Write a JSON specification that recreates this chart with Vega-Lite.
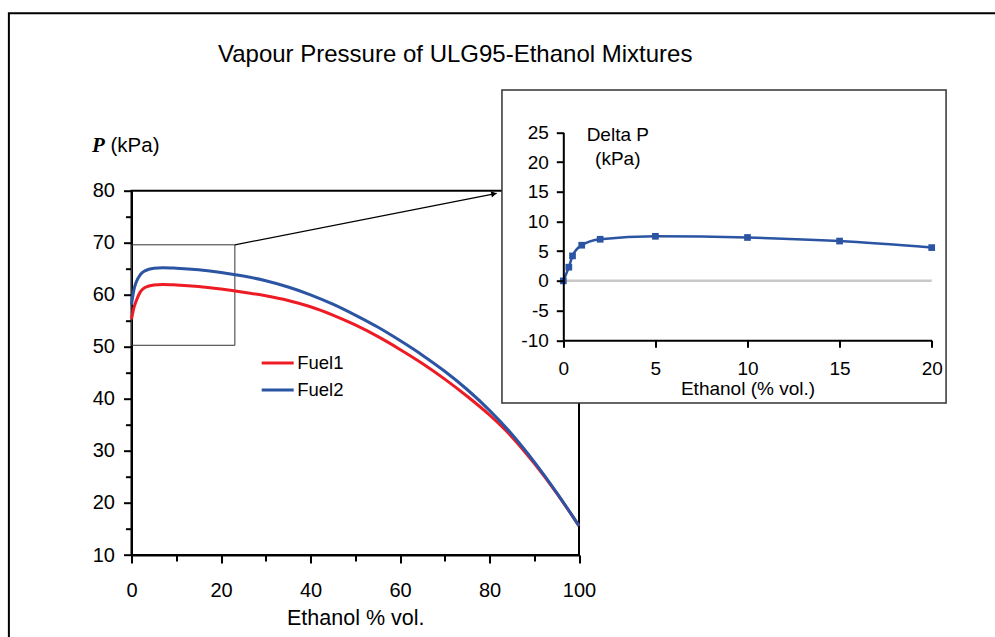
{
  "$schema": "https://vega.github.io/schema/vega-lite/v6.json",
  "width": 447.5,
  "height": 364.3,
  "autosize": {"type": "none"},
  "padding": {"left": 131.5, "top": 190.7, "right": 416, "bottom": 82},
  "background": "white",
  "config": {
    "view": {"stroke": "black", "strokeWidth": 2},
    "font": "Liberation Sans",
    "axis": {
      "grid": false,
      "domainColor": "black",
      "domainWidth": 2,
      "tickColor": "black",
      "tickWidth": 2,
      "labelColor": "black",
      "titleColor": "black",
      "labelFont": "Liberation Sans",
      "titleFont": "Liberation Sans",
      "titleFontWeight": "normal",
      "labelFlush": false
    }
  },
  "resolve": {
    "scale": {"x": "independent", "y": "independent"},
    "axis": {"x": "independent", "y": "independent"}
  },
  "layer": [
    {
      "data": {"values": [{"x0": -27.4, "x1": 200, "y0": 114.1, "y1": -50}]},
      "mark": {"type": "rect", "filled": false, "color": "black", "strokeWidth": 2},
      "encoding": {
        "x": {
          "field": "x0", "type": "quantitative",
          "scale": {"domain": [0, 100], "nice": false, "zero": false},
          "axis": {"orient": "bottom", "values": [10, 30, 50, 70, 90], "tickSize": 6, "labels": false, "domain": false, "title": null}
        },
        "x2": {"field": "x1"},
        "y": {
          "field": "y0", "type": "quantitative",
          "scale": {"domain": [10, 80], "nice": false, "zero": false},
          "axis": {"orient": "left", "values": [15, 25, 35, 45, 55, 65, 75], "tickSize": 6, "labels": false, "domain": false, "title": null}
        },
        "y2": {"field": "y1"}
      }
    },
    {
      "data": {"values": [{"x0": 0, "x1": 23.1, "y0": 69.6, "y1": 50.3}]},
      "mark": {"type": "rect", "filled": false, "color": "#333333", "strokeWidth": 1},
      "encoding": {
        "x": {
          "field": "x0", "type": "quantitative",
          "scale": {"domain": [0, 100], "nice": false, "zero": false},
          "axis": {
            "orient": "top", "labels": false, "ticks": false, "domain": false,
            "title": "Vapour Pressure of ULG95-Ethanol Mixtures",
            "titleFontSize": 24, "titleX": 323.2, "titleY": -129,
            "titleAlign": "center", "titleBaseline": "alphabetic"
          }
        },
        "x2": {"field": "x1"},
        "y": {
          "field": "y0", "type": "quantitative",
          "scale": {"domain": [10, 80], "nice": false, "zero": false},
          "axis": {
            "orient": "left", "labels": false, "ticks": false, "domain": false,
            "title": "(kPa)", "titleFontSize": 20.5, "titleAngle": 0,
            "titleX": -21.5, "titleY": -39, "titleAlign": "left", "titleBaseline": "alphabetic"
          }
        },
        "y2": {"field": "y1"}
      }
    },
    {
      "data": {"values": [{"x0": 23.1, "y0": 69.6, "x1": 81.6, "y1": 79.5}]},
      "mark": {"type": "rule", "color": "black", "strokeWidth": 1.3},
      "encoding": {
        "x": {"field": "x0", "type": "quantitative", "scale": {"domain": [0, 100], "nice": false, "zero": false}, "axis": null},
        "x2": {"field": "x1"},
        "y": {"field": "y0", "type": "quantitative", "scale": {"domain": [10, 80], "nice": false, "zero": false}, "axis": null},
        "y2": {"field": "y1"}
      }
    },
    {
      "data": {"values": [{"x": 81.0, "y": 79.4}]},
      "mark": {"type": "point", "shape": "triangle-right", "filled": true, "color": "black", "size": 40, "angle": -11, "opacity": 1},
      "encoding": {
        "x": {"field": "x", "type": "quantitative", "scale": {"domain": [0, 100], "nice": false, "zero": false}, "axis": null},
        "y": {"field": "y", "type": "quantitative", "scale": {"domain": [10, 80], "nice": false, "zero": false}, "axis": null}
      }
    },
    {
      "data": {
        "values": [
          {"x": 0, "P": 55.3, "fuel": "Fuel1"},
          {"x": 0.5, "P": 57.4, "fuel": "Fuel1"},
          {"x": 1, "P": 58.7, "fuel": "Fuel1"},
          {"x": 2, "P": 60.6, "fuel": "Fuel1"},
          {"x": 3, "P": 61.4, "fuel": "Fuel1"},
          {"x": 5, "P": 61.9, "fuel": "Fuel1"},
          {"x": 7, "P": 62.0, "fuel": "Fuel1"},
          {"x": 10, "P": 61.9, "fuel": "Fuel1"},
          {"x": 15, "P": 61.6, "fuel": "Fuel1"},
          {"x": 20, "P": 61.1, "fuel": "Fuel1"},
          {"x": 25, "P": 60.5, "fuel": "Fuel1"},
          {"x": 30, "P": 59.8, "fuel": "Fuel1"},
          {"x": 35, "P": 58.9, "fuel": "Fuel1"},
          {"x": 40, "P": 57.7, "fuel": "Fuel1"},
          {"x": 45, "P": 56.1, "fuel": "Fuel1"},
          {"x": 50, "P": 54.2, "fuel": "Fuel1"},
          {"x": 55, "P": 52.0, "fuel": "Fuel1"},
          {"x": 60, "P": 49.5, "fuel": "Fuel1"},
          {"x": 65, "P": 46.8, "fuel": "Fuel1"},
          {"x": 70, "P": 43.8, "fuel": "Fuel1"},
          {"x": 75, "P": 40.5, "fuel": "Fuel1"},
          {"x": 80, "P": 36.9, "fuel": "Fuel1"},
          {"x": 85, "P": 32.7, "fuel": "Fuel1"},
          {"x": 90, "P": 27.6, "fuel": "Fuel1"},
          {"x": 95, "P": 21.9, "fuel": "Fuel1"},
          {"x": 100, "P": 15.6, "fuel": "Fuel1"},
          {"x": 0, "P": 58.1, "fuel": "Fuel2"},
          {"x": 0.5, "P": 60.8, "fuel": "Fuel2"},
          {"x": 1, "P": 62.3, "fuel": "Fuel2"},
          {"x": 2, "P": 63.9, "fuel": "Fuel2"},
          {"x": 3, "P": 64.6, "fuel": "Fuel2"},
          {"x": 5, "P": 65.1, "fuel": "Fuel2"},
          {"x": 7, "P": 65.2, "fuel": "Fuel2"},
          {"x": 10, "P": 65.1, "fuel": "Fuel2"},
          {"x": 15, "P": 64.8, "fuel": "Fuel2"},
          {"x": 20, "P": 64.3, "fuel": "Fuel2"},
          {"x": 25, "P": 63.6, "fuel": "Fuel2"},
          {"x": 30, "P": 62.7, "fuel": "Fuel2"},
          {"x": 35, "P": 61.5, "fuel": "Fuel2"},
          {"x": 40, "P": 60.0, "fuel": "Fuel2"},
          {"x": 45, "P": 58.2, "fuel": "Fuel2"},
          {"x": 50, "P": 56.1, "fuel": "Fuel2"},
          {"x": 55, "P": 53.8, "fuel": "Fuel2"},
          {"x": 60, "P": 51.2, "fuel": "Fuel2"},
          {"x": 65, "P": 48.4, "fuel": "Fuel2"},
          {"x": 70, "P": 45.3, "fuel": "Fuel2"},
          {"x": 75, "P": 41.8, "fuel": "Fuel2"},
          {"x": 80, "P": 37.8, "fuel": "Fuel2"},
          {"x": 85, "P": 33.2, "fuel": "Fuel2"},
          {"x": 90, "P": 27.9, "fuel": "Fuel2"},
          {"x": 95, "P": 22.0, "fuel": "Fuel2"},
          {"x": 100, "P": 15.6, "fuel": "Fuel2"}
        ]
      },
      "mark": {"type": "line", "strokeWidth": 3, "interpolate": "monotone"},
      "encoding": {
        "x": {
          "field": "x", "type": "quantitative",
          "scale": {"domain": [0, 100], "nice": false, "zero": false},
          "axis": {
            "orient": "bottom", "values": [0, 20, 40, 60, 80, 100], "tickSize": 8,
            "labelPadding": 17.5, "labelFontSize": 20,
            "title": "Ethanol % vol.", "titleFontSize": 21.5, "titleY": 69.3, "titleBaseline": "alphabetic"
          }
        },
        "y": {
          "field": "P", "type": "quantitative",
          "scale": {"domain": [10, 80], "nice": false, "zero": false},
          "axis": {
            "orient": "left", "values": [10, 20, 30, 40, 50, 60, 70, 80], "tickSize": 8,
            "labelPadding": 9, "labelFontSize": 20,
            "title": "P", "titleFont": "Liberation Serif", "titleFontStyle": "italic", "titleFontWeight": "bold",
            "titleFontSize": 21, "titleAngle": 0, "titleX": -40, "titleY": -39,
            "titleAlign": "left", "titleBaseline": "alphabetic"
          }
        },
        "color": {
          "field": "fuel", "type": "nominal",
          "scale": {"domain": ["Fuel1", "Fuel2"], "range": ["#ED1C24", "#2B54A3"]},
          "legend": {
            "orient": "none", "legendX": 128.7, "legendY": 154.7, "title": null,
            "symbolType": "stroke", "symbolSize": 1024, "symbolStrokeWidth": 3,
            "labelFontSize": 18.5, "labelFont": "Liberation Sans", "labelColor": "black",
            "labelOffset": 2, "rowPadding": -11, "padding": 0
          }
        }
      }
    },
    {
      "data": {"values": [{"x0": -3.33, "x1": 20.78, "y0": 32.12, "y1": -20.55}]},
      "mark": {"type": "rect", "fill": "white", "stroke": "#333333", "strokeWidth": 1.5},
      "encoding": {
        "x": {
          "field": "x0", "type": "quantitative",
          "scale": {"domain": [0, 20], "range": [431.8, 800.2], "nice": false, "zero": false},
          "axis": {
            "orient": "bottom", "offset": -214.7, "values": [0, 5, 10, 15, 20], "tickSize": 7,
            "labelPadding": 12.5, "labelFontSize": 19,
            "title": "Ethanol (% vol.)", "titleFontSize": 19, "titleY": 54, "titleBaseline": "alphabetic",
            "zindex": 1
          }
        },
        "x2": {"field": "x1"},
        "y": {
          "field": "y0", "type": "quantitative",
          "scale": {"domain": [-10, 25], "range": [149.6, -58.4], "nice": false, "zero": false},
          "axis": {
            "orient": "left", "offset": -431.8, "values": [-10, -5, 0, 5, 10, 15, 20, 25], "tickSize": 7,
            "labelPadding": 8, "labelFontSize": 19, "labelExpr": "datum.value + ''",
            "title": ["Delta P", "(kPa)"], "titleFontSize": 19, "titleAngle": 0,
            "titleAlign": "center", "titleBaseline": "top", "titleX": 54, "titleY": -65.7,
            "titleLineHeight": 24, "zindex": 1
          }
        },
        "y2": {"field": "y1"}
      }
    },
    {
      "data": {"values": [{"x0": 0, "x1": 20, "y0": 0}]},
      "mark": {"type": "rule", "color": "#C8C8C8", "strokeWidth": 2.5},
      "encoding": {
        "x": {"field": "x0", "type": "quantitative", "scale": {"domain": [0, 20], "range": [431.8, 800.2], "nice": false, "zero": false}, "axis": null},
        "x2": {"field": "x1"},
        "y": {"field": "y0", "type": "quantitative", "scale": {"domain": [-10, 25], "range": [149.6, -58.4], "nice": false, "zero": false}, "axis": null}
      }
    },
    {
      "data": {
        "values": [
          {"e": 0, "dp": 0},
          {"e": 0.3, "dp": 2.3},
          {"e": 0.5, "dp": 4.2},
          {"e": 1, "dp": 6.0},
          {"e": 2, "dp": 7.0},
          {"e": 5, "dp": 7.5},
          {"e": 10, "dp": 7.3},
          {"e": 15, "dp": 6.7},
          {"e": 20, "dp": 5.6}
        ]
      },
      "mark": {
        "type": "line", "color": "#2B54A3", "strokeWidth": 2.5, "interpolate": "monotone",
        "point": {"shape": "square", "size": 45, "filled": true, "color": "#2B54A3", "opacity": 1}
      },
      "encoding": {
        "x": {"field": "e", "type": "quantitative", "scale": {"domain": [0, 20], "range": [431.8, 800.2], "nice": false, "zero": false}, "axis": null},
        "y": {"field": "dp", "type": "quantitative", "scale": {"domain": [-10, 25], "range": [149.6, -58.4], "nice": false, "zero": false}, "axis": null}
      }
    }
  ]
}
